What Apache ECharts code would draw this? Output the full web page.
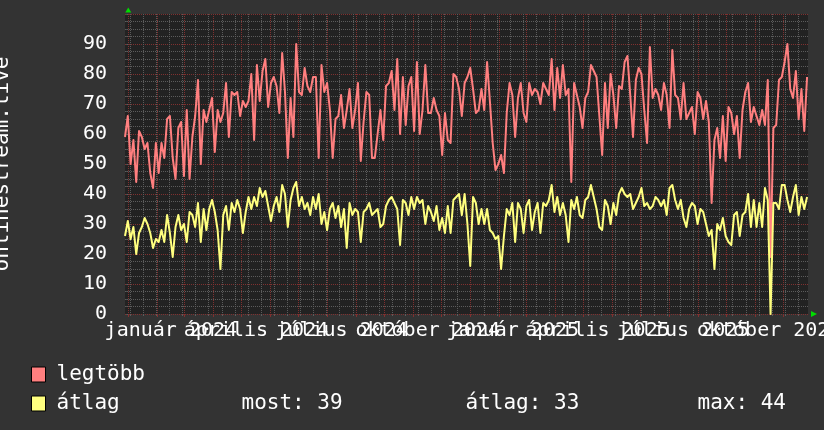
<!DOCTYPE html>
<html>
<head>
<meta charset="utf-8">
<title>onlinestream.live</title>
<script src="https://cdn.jsdelivr.net/npm/echarts@6/dist/echarts.min.js"></script>
<style>
  html, body { margin: 0; padding: 0; background: #333333; }
  #chart { width: 824px; height: 430px; }
</style>
</head>
<body>
<div id="chart"></div>
<script>
const font = "'DejaVu Sans Mono', monospace";

// one sample every 3 days, first one at 2023-12-28 12:00 (day 0 = 2024-01-01)
const startDay = -3.5;
const stepDays = 3;
const spanDays = 730;

const legtobb = [
  59, 66, 50, 58, 44, 61, 59, 55, 57, 47,
  42, 57, 47, 57, 52, 65, 66, 52, 45, 62,
  64, 46, 68, 45, 59, 66, 78, 50, 68, 64,
  68, 72, 54, 68, 64, 67, 77, 59, 74, 73,
  74, 66, 71, 69, 71, 80, 58, 83, 71, 81,
  85, 69, 77, 79, 76, 67, 87, 74, 52, 72,
  59, 90, 74, 73, 82, 76, 74, 79, 79, 52,
  83, 74, 77, 68, 52, 65, 66, 73, 62, 68,
  75, 62, 68, 77, 51, 64, 74, 73, 52, 52,
  60, 68, 58, 76, 77, 81, 68, 85, 60, 79,
  63, 76, 79, 61, 84, 60, 68, 83, 67, 67,
  72, 68, 66, 53, 67, 58, 57, 80, 79, 75,
  66, 77, 79, 82, 75, 67, 68, 75, 68, 84,
  71, 57, 48, 50, 53, 47, 67, 77, 73, 59,
  72, 77, 67, 64, 77, 73, 75, 74, 70, 77,
  75, 73, 85, 68, 82, 72, 83, 73, 75, 44,
  77, 73, 69, 62, 72, 74, 83, 81, 79, 66,
  53, 77, 62, 80, 73, 62, 76, 75, 84, 86,
  73, 59, 78, 82, 80, 68, 57, 89, 72, 75,
  73, 68, 77, 73, 62, 88, 73, 72, 65, 77,
  65, 67, 69, 60, 74, 72, 65, 71, 64, 37,
  58, 62, 52, 66, 51, 69, 67, 60, 66, 52,
  68, 74, 77, 64, 69, 66, 63, 68, 63, 78,
  19, 62, 63, 78, 79, 84, 90, 75, 72, 81,
  65, 75, 61, 79
];

const atlag = [
  26, 31, 25, 29, 20, 27, 29, 32, 30, 27,
  22, 25, 24, 28, 24, 33, 27, 19, 29, 33,
  28, 30, 24, 34, 33, 29, 37, 24, 35, 28,
  35, 38, 34, 28, 15, 33, 36, 28, 37, 34,
  38, 35, 27, 34, 39, 35, 39, 36, 42, 39,
  41, 36, 31, 36, 39, 34, 43, 40, 29, 38,
  42, 44, 36, 39, 35, 37, 33, 39, 35, 40,
  30, 34, 28, 35, 37, 32, 36, 29, 35, 22,
  37, 33, 35, 34, 24, 34, 35, 37, 33, 34,
  35, 29, 30, 36, 38, 39, 37, 35, 23, 38,
  37, 33, 39, 35, 39, 37, 38, 30, 36, 34,
  31, 36, 28, 32, 27, 36, 27, 38, 39, 40,
  33, 40, 30, 16, 39, 37, 30, 35, 30, 35,
  28, 27, 25, 26, 15, 26, 35, 33, 37, 24,
  37, 35, 27, 36, 38, 28, 34, 37, 27, 37,
  36, 38, 43, 34, 39, 33, 37, 33, 24, 38,
  35, 39, 33, 32, 38, 39, 43, 39, 35, 29,
  28, 38, 36, 30, 37, 33, 40, 42, 40, 39,
  40, 35, 37, 39, 42, 36, 37, 35, 36, 39,
  38, 36, 38, 33, 42, 43, 38, 35, 38, 32,
  29, 35, 37, 36, 30, 35, 34, 30, 26, 28,
  15, 30, 28, 32, 26, 24, 23, 33, 34, 26,
  33, 34, 40, 29, 38, 29, 37, 29, 42, 38,
  0, 37, 37, 35, 43, 43, 38, 34, 39, 43,
  33, 39, 35, 39
];

const quarterLabels = [
  'január 2024', 'április 2024', 'július 2024', 'október 2024',
  'január 2025', 'április 2025', 'július 2025', 'október 2025'
];
const quarterStarts = [
  [2024, 1], [2024, 4], [2024, 7], [2024, 10],
  [2025, 1], [2025, 4], [2025, 7], [2025, 10], [2026, 1]
];
const yTickLabels = [0, 10, 20, 30, 40, 50, 60, 70, 80, 90];
const statLabels = ['most', 'átlag', 'max'];
const statValues = [39, 33, 44];

const epoch = Date.UTC(2024, 0, 1);
const dayOf = (y, m, d) => (Date.UTC(y, m - 1, d) - epoch) / 864e5;

const monthLines = [];
[2024, 2025].forEach((y) => {
  for (let m = 1; m <= 12; m++) monthLines.push(dayOf(y, m, 1));
});
const weekLines = [];
for (let d = 2; d < startDay + spanDays; d += 14) weekLines.push(d);
const quarterMid = [];
for (let k = 0; k < quarterLabels.length; k++) {
  const a = dayOf(quarterStarts[k][0], quarterStarts[k][1], 1);
  const b = dayOf(quarterStarts[k + 1][0], quarterStarts[k + 1][1], 1);
  quarterMid.push((a + b) / 2);
}

const gridGray = '#5c5c5c';
const gridRed = '#80302f';
const arrowGreen = '#00dd00';

function dayAxis(extra) {
  return Object.assign({
    type: 'value',
    gridIndex: 0,
    position: 'bottom',
    min: startDay,
    max: startDay + spanDays,
    axisLine: { show: false },
    axisTick: { show: false },
    axisLabel: { show: false },
    splitLine: { show: false }
  }, extra);
}

// rrdtool writes every quarter label, even where they run into each other;
// two label axes (odd / even quarters) keep echarts from dropping any of them
function labelAxis(parity) {
  const values = quarterMid.filter((_, k) => k % 2 === parity);
  return dayAxis({
    axisLabel: {
      show: true,
      customValues: values,
      hideOverlap: false,
      margin: 7,
      color: '#ffffff',
      fontFamily: font,
      fontSize: 20,
      formatter: (v) => {
        let best = 0;
        quarterMid.forEach((q, k) => {
          if (Math.abs(q - v) < Math.abs(quarterMid[best] - v)) best = k;
        });
        return quarterLabels[best];
      }
    }
  });
}

const chart = echarts.init(document.getElementById('chart'), null, { renderer: 'canvas' });

chart.setOption({
  animation: false,
  backgroundColor: '#333333',
  grid: {
    left: 125, right: 16, top: 14, bottom: 116,
    show: true, backgroundColor: '#222222', borderWidth: 0,
    outerBoundsMode: 'none'
  },
  xAxis: [
    dayAxis({
      axisTick: { show: true, customValues: weekLines, length: 2, lineStyle: { color: gridGray } },
      splitLine: { show: true, lineStyle: { color: gridGray, type: 'dotted', width: 1 } }
    }),
    dayAxis({
      axisTick: { show: true, customValues: monthLines, length: 3, lineStyle: { color: gridRed } },
      splitLine: { show: true, lineStyle: { color: gridRed, type: 'dotted', width: 1 } },
      axisLine: {
        show: true,
        lineStyle: { color: arrowGreen, width: 0 },
        symbol: ['none', 'triangle'],
        symbolSize: [6, 6],
        symbolOffset: [0, 6]
      }
    }),
    labelAxis(0),
    labelAxis(1)
  ],
  yAxis: {
    type: 'value',
    min: 0,
    max: 100,
    interval: 2.5,
    name: 'onlinestream.live',
    nameLocation: 'middle',
    nameGap: 112,
    nameRotate: 90,
    nameTextStyle: { color: '#ffffff', fontFamily: font, fontSize: 21 },
    axisLine: {
      show: true,
      lineStyle: { color: arrowGreen, width: 0 },
      symbol: ['none', 'triangle'],
      symbolSize: [6, 5],
      symbolOffset: [0, 4]
    },
    axisTick: { show: true, length: 2, lineStyle: { color: gridGray } },
    axisLabel: {
      margin: 18,
      color: '#ffffff',
      fontFamily: font,
      fontSize: 20,
      formatter: (v) => (yTickLabels.indexOf(v) >= 0 ? String(v) : '')
    },
    splitLine: {
      show: true,
      lineStyle: { color: [gridRed, gridGray, gridGray, gridGray], type: 'dotted', width: 1 }
    }
  },
  legend: {
    orient: 'vertical',
    left: 31,
    top: 364,
    padding: 0,
    itemWidth: 14,
    itemHeight: 15,
    itemGap: 8,
    icon: 'rect',
    selectedMode: false,
    itemStyle: { borderColor: '#000000', borderWidth: 1 },
    data: ['legtöbb', 'átlag'],
    textStyle: {
      color: '#ffffff',
      fontFamily: font,
      fontSize: 21,
      lineHeight: 15,
      rich: {
        s: { width: 6, fontFamily: font, fontSize: 21, lineHeight: 15 },
        n: { width: 185, fontFamily: font, fontSize: 21, lineHeight: 15, color: '#ffffff' },
        a: { width: 224, fontFamily: font, fontSize: 21, lineHeight: 15, color: '#ffffff' },
        b: { width: 232, fontFamily: font, fontSize: 21, lineHeight: 15, color: '#ffffff' },
        c: { fontFamily: font, fontSize: 21, lineHeight: 15, color: '#ffffff' }
      }
    },
    formatter: (name) => {
      if (name !== 'átlag') return '{s| }{n|' + name + '}';
      return '{s| }{n|' + name + '}' +
        '{a|' + statLabels[0] + ': ' + statValues[0] + '}' +
        '{b|' + statLabels[1] + ': ' + statValues[1] + '}' +
        '{c|' + statLabels[2] + ': ' + statValues[2] + '}';
    }
  },
  series: [
    {
      name: 'legtöbb',
      type: 'line',
      xAxisIndex: 0,
      showSymbol: false,
      symbol: 'none',
      data: legtobb.map((v, i) => [startDay + i * stepDays, v]),
      lineStyle: { color: '#ff7f7f', width: 2, join: 'round' },
      itemStyle: { color: '#ff7f7f' }
    },
    {
      name: 'átlag',
      type: 'line',
      xAxisIndex: 0,
      showSymbol: false,
      symbol: 'none',
      data: atlag.map((v, i) => [startDay + i * stepDays, v]),
      lineStyle: { color: '#ffff7f', width: 2, join: 'round' },
      itemStyle: { color: '#ffff7f' }
    }
  ]
});
</script>
</body>
</html>
